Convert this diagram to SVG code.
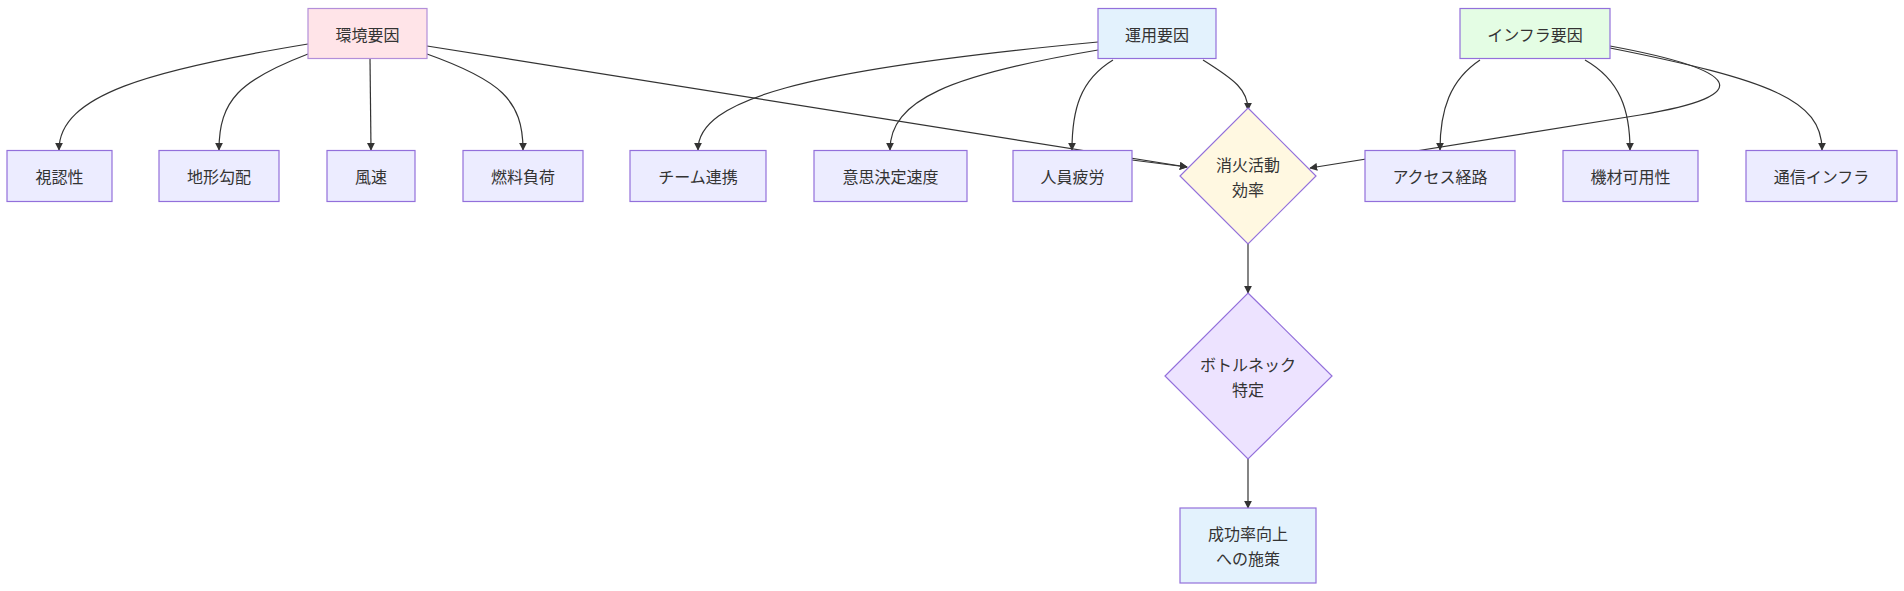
<svg xmlns="http://www.w3.org/2000/svg" width="1904" height="591" viewBox="0 0 1904 591">
<defs>
<marker id="ah" viewBox="0 0 10 10" refX="9" refY="5" markerWidth="8" markerHeight="8" orient="auto" markerUnits="userSpaceOnUse"><path d="M0,0 L10,5 L0,10 z" fill="#333"/></marker>
<style>
.n{fill:#ececff;stroke:#9370db;stroke-width:1.2}
.t{font-family:"Noto Sans CJK JP","Noto Sans",sans-serif;font-size:16px;fill:#333;text-anchor:middle;dominant-baseline:central}
.e{fill:none;stroke:#333;stroke-width:1.2;marker-end:url(#ah)}
</style>
</defs>
<rect width="1904" height="591" fill="#fff"/>
<g id="connectors">
<path class="e" d="M308,44 C150,70 59,95 59,150"/>
<path class="e" d="M308,54 C240,80 219,100 219,150"/>
<path class="e" d="M370,58 L371,150"/>
<path class="e" d="M427,54 C500,80 523,100 523,150"/>
<path class="e" d="M427,46 L1187,167"/>
<path class="e" d="M1098,42 C800,70 698,100 698,150"/>
<path class="e" d="M1098,50 C950,75 890,100 890,150"/>
<path class="e" d="M1113,60 C1080,80 1072,110 1072,150"/>
<path class="e" d="M1132,160 L1187,167"/>
<path class="e" d="M1203,60 C1235,80 1248,90 1248,110"/>
<path class="e" d="M1480,60 C1450,80 1440,110 1440,150"/>
<path class="e" d="M1585,60 C1620,80 1630,110 1630,150"/>
<path class="e" d="M1610,48 C1770,80 1822,100 1822,150"/>
<path class="e" d="M1610,46 C1740,70 1760,95 1640,115 L1310,168"/>
<path class="e" d="M1248,244 L1248,293"/>
<path class="e" d="M1248,459 L1248,508"/>
</g>
<g id="env"><rect x="308" y="8.5" width="119" height="50" fill="#ffe4e8" stroke="#b38fd9" stroke-width="1.2"/><text class="t" x="367.5" y="33.5">環境要因</text></g>
<g id="ops"><rect x="1098" y="8.5" width="118" height="50" fill="#e3f2fd" stroke="#9370db" stroke-width="1.2"/><text class="t" x="1157" y="33.5">運用要因</text></g>
<g id="infra"><rect x="1460" y="8.5" width="150" height="50" fill="#e4fde4" stroke="#9370db" stroke-width="1.2"/><text class="t" x="1535" y="33.5">インフラ要因</text></g>
<g id="vis"><rect class="n" x="7" y="150.5" width="105" height="51"/><text class="t" x="59.5" y="176">視認性</text></g>
<g id="terrain"><rect class="n" x="159" y="150.5" width="120" height="51"/><text class="t" x="219" y="176">地形勾配</text></g>
<g id="wind"><rect class="n" x="327" y="150.5" width="88" height="51"/><text class="t" x="371" y="176">風速</text></g>
<g id="fuel"><rect class="n" x="463" y="150.5" width="120" height="51"/><text class="t" x="523" y="176">燃料負荷</text></g>
<g id="team"><rect class="n" x="630" y="150.5" width="136" height="51"/><text class="t" x="698" y="176">チーム連携</text></g>
<g id="decision"><rect class="n" x="814" y="150.5" width="153" height="51"/><text class="t" x="890.5" y="176">意思決定速度</text></g>
<g id="fatigue"><rect class="n" x="1013" y="150.5" width="119" height="51"/><text class="t" x="1072.5" y="176">人員疲労</text></g>
<g id="eff"><polygon points="1248,108 1316,176 1248,244 1180,176" fill="#fff8e1" stroke="#9370db" stroke-width="1.2"/><text class="t" x="1248" y="164">消火活動</text><text class="t" x="1248" y="189">効率</text></g>
<g id="access"><rect class="n" x="1365" y="150.5" width="150" height="51"/><text class="t" x="1440" y="176">アクセス経路</text></g>
<g id="equip"><rect class="n" x="1563" y="150.5" width="135" height="51"/><text class="t" x="1630.5" y="176">機材可用性</text></g>
<g id="comm"><rect class="n" x="1746" y="150.5" width="151" height="51"/><text class="t" x="1821.5" y="176">通信インフラ</text></g>
<g id="bottleneck"><polygon points="1248,293 1332,376 1248,459 1165,376" fill="#ede3ff" stroke="#9370db" stroke-width="1.2"/><text class="t" x="1248" y="364">ボトルネック</text><text class="t" x="1248" y="389">特定</text></g>
<g id="measures"><rect x="1180" y="508" width="136" height="75" fill="#e3f2fd" stroke="#9370db" stroke-width="1.2"/><text class="t" x="1248" y="533">成功率向上</text><text class="t" x="1248" y="558">への施策</text></g>
</svg>
